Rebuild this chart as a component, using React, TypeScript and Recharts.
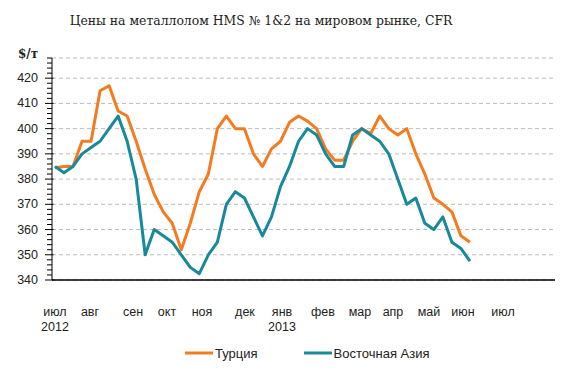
import React from "react";
import { LineChart, Line, XAxis, YAxis, CartesianGrid } from "recharts";

// Weekly prices, $/t (July 2012 – June 2013)
const turkey = [
  384.5, 385, 385, 395, 395, 415, 417, 407, 405, 395, 384, 374, 367, 362.5, 352, 362.5,
  375, 382, 400, 405, 400, 400, 390, 385, 392, 395, 402.5, 405, 403, 400, 392, 387.5,
  387.5, 395, 400, 398, 405, 400, 397.5, 400, 390, 382, 372.5, 370, 367, 357.5, 355,
];
const eastAsia = [
  385, 382.5, 385, 390, 392.5, 395, 400, 405, 395, 380, 350, 360, 357.5, 355, 350, 345,
  342.5, 350, 355, 370, 375, 372.5, 365, 357.5, 365, 377, 385, 395, 400, 397.5, 390, 385,
  385, 397.5, 400, 397.5, 395, 390, 380, 370, 372.5, 362.5, 360, 365, 355, 352.5, 347.5,
];

// Month tick positions (in weeks from first point) and labels
const monthTicks = [0, 3.88, 8.65, 12.42, 16.3, 21.06, 25.17, 29.71, 33.81, 37.47, 41.46, 45.23, 49.67];
const monthLabels = ["июл", "авг", "сен", "окт", "ноя", "дек", "янв", "фев", "мар", "апр", "май", "июн", "июл"];
const yearLabels = ["2012", "", "", "", "", "", "2013", "", "", "", "", "", ""];

const yMin = 340;
const yMax = 428;
const gridTicks = [350, 360, 370, 380, 390, 400, 410, 420];
const minorTicks: number[] = [];
for (let v = yMin; v <= yMax; v += 2) minorTicks.push(v);

const data = turkey.map((t, i) => ({ week: i, turkey: t, asia: eastAsia[i] }));

const ORANGE = "#F47B20";
const TEAL = "#17899A";
const FONT = "'Liberation Sans', Arial, sans-serif";

const MonthTick = (props: any) => {
  const { x, y, index } = props;
  return (
    <g>
      <text x={x} y={y + 32} textAnchor="middle" dominantBaseline="central" fontFamily={FONT} fontSize={12.5} fill="#222">
        {monthLabels[index]}
      </text>
      {yearLabels[index] ? (
        <text x={x} y={y + 47} textAnchor="middle" dominantBaseline="central" fontFamily={FONT} fontSize={12.5} fill="#222">
          {yearLabels[index]}
        </text>
      ) : null}
    </g>
  );
};

const YTick = (props: any) => {
  const { x, y, payload } = props;
  const v = payload.value;
  const major = v % 10 === 0 && v <= 420;
  return (
    <g>
      <line x1={major ? x - 7 : x - 5} x2={major ? x + 1.5 : x} y1={y} y2={y} stroke="#000" strokeWidth={1} />
      {major ? (
        <text x={x - 14} y={y} textAnchor="end" dominantBaseline="central" fontFamily={FONT} fontSize={12.5} fill="#222">
          {v}
        </text>
      ) : null}
    </g>
  );
};

export default function App() {
  return (
    <div style={{ position: "absolute", left: 0, top: 0, width: 580, height: 380, background: "#fff" }}>
      <div
        style={{
          position: "absolute",
          left: 0,
          top: 11,
          width: 522,
          textAlign: "center",
          fontFamily: "'DejaVu Serif', serif",
          fontSize: 12.4,
          lineHeight: "20px",
          color: "#222",
        }}
      >
        Цены на металлолом HMS № 1&amp;2 на мировом рынке, CFR
      </div>
      <div
        style={{
          position: "absolute",
          left: 18,
          top: 46,
          fontFamily: "'DejaVu Serif', serif",
          fontWeight: "bold",
          fontSize: 12,
          lineHeight: "16px",
          color: "#222",
        }}
      >
        $/т
      </div>
      <LineChart width={580} height={380} data={data} margin={{ top: 58, right: 25, bottom: 40, left: 0 }}>
        <CartesianGrid yAxisId="grid" vertical={false} stroke="#bdbdbd" strokeDasharray="4 3" />
        <XAxis
          dataKey="week"
          type="number"
          domain={[-0.33, 55.43]}
          ticks={monthTicks}
          interval={0}
          tick={<MonthTick />}
          tickLine={false}
          tickSize={0}
          tickMargin={0}
          axisLine={{ stroke: "#000", strokeWidth: 1.5 }}
          height={60}
          allowDataOverflow
        />
        <YAxis
          yAxisId="left"
          orientation="left"
          type="number"
          domain={[yMin, yMax]}
          ticks={minorTicks}
          interval={0}
          tick={<YTick />}
          tickLine={false}
          tickSize={0}
          tickMargin={0}
          axisLine={{ stroke: "#000", strokeWidth: 1 }}
          width={52}
          allowDataOverflow
        />
        <YAxis
          yAxisId="grid"
          orientation="right"
          type="number"
          hide
          domain={[yMin, yMax]}
          ticks={gridTicks}
          interval={0}
          allowDataOverflow
        />
        <Line
          yAxisId="left"
          type="linear"
          dataKey="turkey"
          stroke={ORANGE}
          strokeWidth={3}
          dot={false}
          strokeLinejoin="round"
          isAnimationActive={false}
        />
        <Line
          yAxisId="left"
          type="linear"
          dataKey="asia"
          stroke={TEAL}
          strokeWidth={3}
          dot={false}
          strokeLinejoin="round"
          isAnimationActive={false}
        />
      </LineChart>
      <div style={{ position: "absolute", left: 185, top: 344, height: 18, display: "flex", alignItems: "center", fontFamily: FONT, fontSize: 13, color: "#222" }}>
        <svg width={29} height={18}>
          <line x1={0} x2={28} y1={9} y2={9} stroke={ORANGE} strokeWidth={3} />
        </svg>
        <span style={{ marginLeft: 1 }}>Турция</span>
        <svg width={29} height={18} style={{ marginLeft: 46 }}>
          <line x1={0} x2={28} y1={9} y2={9} stroke={TEAL} strokeWidth={3} />
        </svg>
        <span style={{ marginLeft: 1 }}>Восточная Азия</span>
      </div>
    </div>
  );
}
